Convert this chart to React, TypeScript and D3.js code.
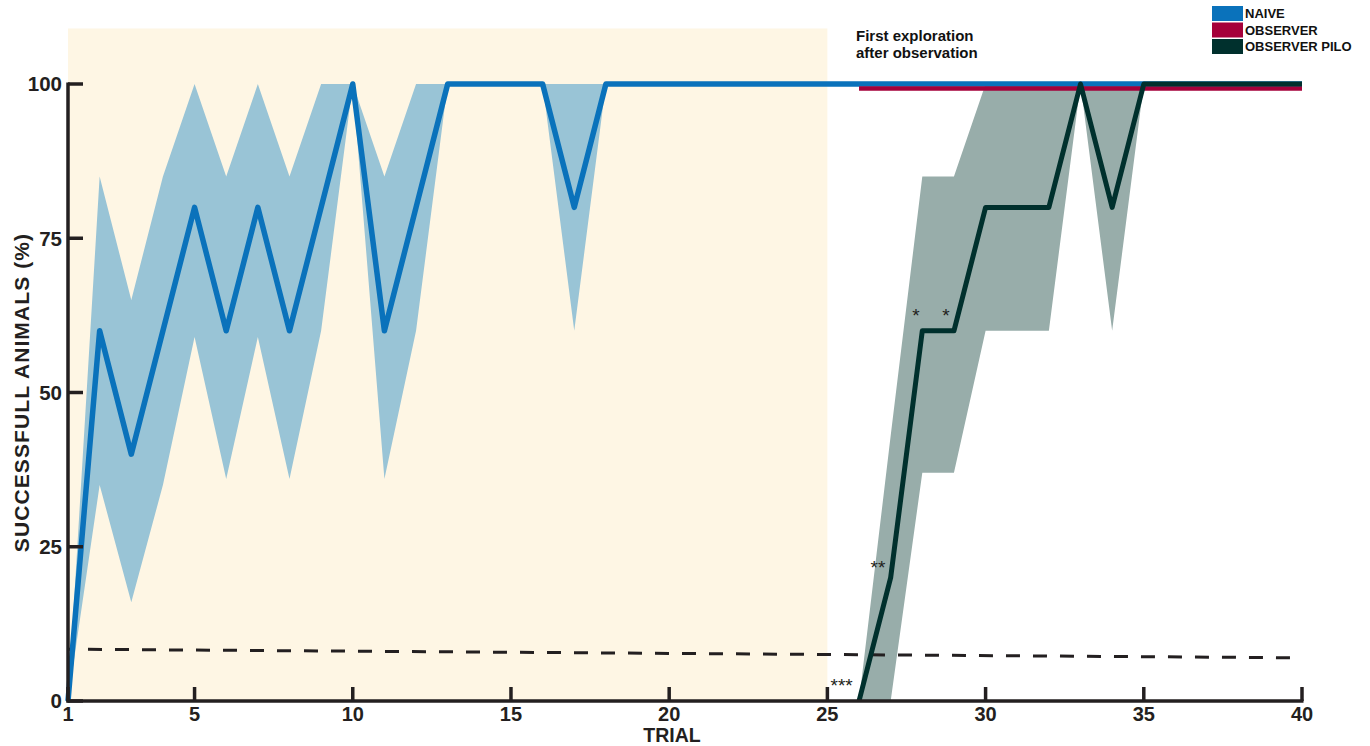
import React from "react";
import * as d3 from "d3";

// ---- data ----
const trials = d3.range(1, 41);
const naiveMean = [0, 60, 40, 60, 80, 60, 80, 60, 80, 100, 60, 80, 100, 100, 100, 100, 80, 100, 100, 100, 100, 100, 100, 100, 100, 100, 100, 100, 100, 100, 100, 100, 100, 100, 100, 100, 100, 100, 100, 100];
const naiveUpper = [0, 85, 65, 85, 100, 85, 100, 85, 100, 100, 85, 100, 100, 100, 100, 100, 100, 100, 100, 100, 100, 100, 100, 100, 100, 100, 100, 100, 100, 100, 100, 100, 100, 100, 100, 100, 100, 100, 100, 100];
const naiveLower = [0, 35, 16, 35, 59, 36, 59, 36, 60, 100, 36, 60, 100, 100, 100, 100, 60, 100, 100, 100, 100, 100, 100, 100, 100, 100, 100, 100, 100, 100, 100, 100, 100, 100, 100, 100, 100, 100, 100, 100];

const lateTrials = d3.range(26, 41);
const pilotMean = [0, 20, 60, 60, 80, 80, 80, 100, 80, 100, 100, 100, 100, 100, 100];
const pilotUpper = [0, 43, 85, 85, 100, 100, 100, 100, 100, 100, 100, 100, 100, 100, 100];
const pilotLower = [0, 0, 37, 37, 60, 60, 60, 100, 60, 100, 100, 100, 100, 100, 100];
const observerMean = [100, 100, 100, 100, 100, 100, 100, 100, 100, 100, 100, 100, 100, 100, 100];

const chanceTrials = [1, 40];
const chanceLevel = [8.4, 7.0];

const xTicks = [1, 5, 10, 15, 20, 25, 30, 35, 40];
const yTicks = [0, 25, 50, 75, 100];

const legendItems = [
  { label: "NAIVE", color: "#0a72bb" },
  { label: "OBSERVER", color: "#a5003a" },
  { label: "OBSERVER PILO", color: "#00302d" },
];

const stars = [
  { t: 25.45, v: 1.5, s: "***" },
  { t: 26.6, v: 20.6, s: "**" },
  { t: 27.8, v: 61.4, s: "*" },
  { t: 28.75, v: 61.4, s: "*" },
];

const FONT = "'Liberation Sans', Arial, sans-serif";

export default function App() {
  const x = d3.scaleLinear().domain([1, 40]).range([68, 1302]);
  const y = d3.scaleLinear().domain([0, 100]).range([701, 84]);

  type P = { t: number; m: number; u: number; l: number };
  const naive: P[] = trials.map((t, i) => ({ t, m: naiveMean[i], u: naiveUpper[i], l: naiveLower[i] }));
  const pilo: P[] = lateTrials.map((t, i) => ({ t, m: pilotMean[i], u: pilotUpper[i], l: pilotLower[i] }));
  const obs = lateTrials.map((t, i) => ({ t, m: observerMean[i] }));

  const area = d3.area<P>().x((d) => x(d.t)).y0((d) => y(d.l)).y1((d) => y(d.u));
  const line = d3.line<{ t: number; m: number }>().x((d) => x(d.t)).y((d) => y(d.m));
  const chance = chanceTrials.map((t, i) => ({ t, m: chanceLevel[i] }));

  const axisColor = "#231f20";

  return (
    <svg width={1370} height={746} style={{ position: "absolute", left: 0, top: 0, background: "#fff" }} fontFamily={FONT}>
      {/* shaded observation period */}
      <rect x={x(1)} y={y(109)} width={x(25) - x(1)} height={y(0) - y(109)} fill="#fef6e4" />

      {/* bands */}
      <path d={area(naive) || ""} fill="#99c4d6" />
      <path d={area(pilo) || ""} fill="#98adaa" />

      {/* chance line */}
      <path d={line(chance) || ""} fill="none" stroke="#231f20" strokeWidth={3} strokeDasharray="14 13" strokeDashoffset={7} />

      {/* mean lines */}
      <path d={line(naive.map((d) => ({ t: d.t, m: d.m }))) || ""} fill="none" stroke="#0a72bb" strokeWidth={5.5} strokeLinejoin="round" />
      <path d={line(obs) || ""} fill="none" stroke="#a5003a" strokeWidth={4.5} transform="translate(0,4.5)" />
      <path d={line(pilo.map((d) => ({ t: d.t, m: d.m }))) || ""} fill="none" stroke="#00302d" strokeWidth={5} strokeLinejoin="round" />

      {/* axes */}
      <line x1={x(1)} x2={x(1)} y1={y(100) - 1.5} y2={y(0) + 1.5} stroke={axisColor} strokeWidth={3.5} />
      <line x1={x(1) - 1.5} x2={x(40) + 1.5} y1={y(0)} y2={y(0)} stroke={axisColor} strokeWidth={3.5} />
      {yTicks.map((v) => (
        <g key={"y" + v}>
          <line x1={x(1)} x2={x(1) + 15} y1={y(v)} y2={y(v)} stroke={axisColor} strokeWidth={3.5} />
          <text x={62} y={y(v)} dy="0.36em" textAnchor="end" fontSize={20.5} fontWeight="bold" fill={axisColor}>
            {v}
          </text>
        </g>
      ))}
      {xTicks.map((v) => (
        <g key={"x" + v}>
          <line x1={x(v)} x2={x(v)} y1={y(0)} y2={y(0) - 14} stroke={axisColor} strokeWidth={3.5} />
          <text x={x(v)} y={720.5} textAnchor="middle" fontSize={20} fontWeight="bold" fill={axisColor}>
            {v}
          </text>
        </g>
      ))}
      <text x={672} y={741.5} textAnchor="middle" fontSize={19.5} fontWeight="bold" fill={axisColor}>
        TRIAL
      </text>
      <text
        transform={`translate(29,${y(50)}) rotate(-90)`}
        textAnchor="middle"
        fontSize={21}
        letterSpacing={1.1}
        fontWeight="bold"
        fill={axisColor}
      >
        SUCCESSFULL ANIMALS (%)
      </text>

      {/* significance stars */}
      {stars.map((s, i) => (
        <text key={i} x={x(s.t)} y={y(s.v)} textAnchor="middle" fontSize={19} fill="#231f20">
          {s.s}
        </text>
      ))}

      {/* annotation */}
      <text x={856} y={41} fontSize={15} fontWeight="bold" fill="#111">First exploration</text>
      <text x={856} y={58} fontSize={15} fontWeight="bold" fill="#111">after observation</text>

      {/* legend */}
      {legendItems.map((it, i) => (
        <g key={it.label} transform={`translate(1212,${6 + i * 16.5})`}>
          <rect x={0} y={0} width={31} height={15} fill={it.color} />
          <text x={33} y={12} fontSize={13} fontWeight="bold" fill="#111">
            {it.label}
          </text>
        </g>
      ))}
    </svg>
  );
}
